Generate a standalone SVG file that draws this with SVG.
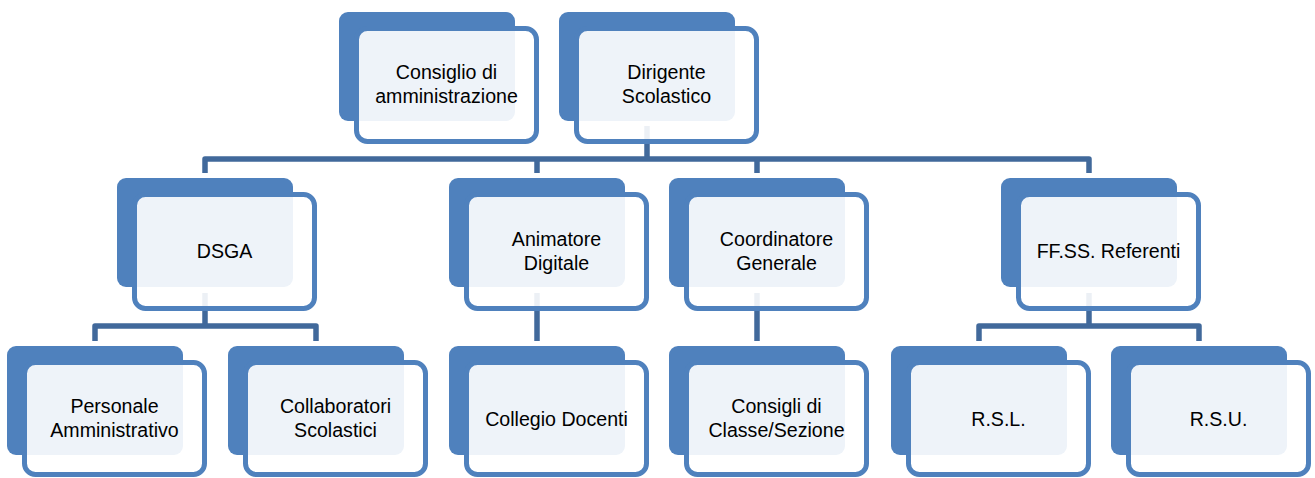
<svg xmlns="http://www.w3.org/2000/svg" width="1315" height="478" viewBox="0 0 1315 478">
<style>
.back{fill:#4F81BD}
.front{fill:#FFFFFF;fill-opacity:0.9;stroke:#4F81BD;stroke-width:5}
.lbl{font-family:"Liberation Sans",Arial,sans-serif;font-size:19.6px;fill:#000;text-anchor:middle}
.conn{fill:none;stroke:#41699B;stroke-width:5.5;stroke-linejoin:round}
</style>
<rect width="1315" height="478" fill="#FFFFFF"/>
<g id="connectors">
<path class="conn" d="M647,126 V159"/>
<path class="conn" d="M205,173 V159 H1089 V173"/>
<path class="conn" d="M537,159 V173"/>
<path class="conn" d="M757,159 V173"/>
<path class="conn" d="M205,293 V326"/>
<path class="conn" d="M95,341 V326 H316 V341"/>
<path class="conn" d="M537,293 V341"/>
<path class="conn" d="M757,293 V341"/>
<path class="conn" d="M1089,293 V326"/>
<path class="conn" d="M979,341 V326 H1199 V341"/>
</g>
<g id="n-consiglio">
<rect class="back" x="339" y="12" width="176" height="109" rx="9"/>
<rect class="front" x="356.5" y="28.5" width="180" height="113" rx="11"/>
<text class="lbl" x="446.5" y="79">Consiglio di</text>
<text class="lbl" x="446.5" y="103">amministrazione</text>
</g>
<g id="n-dirigente">
<rect class="back" x="559" y="12" width="176" height="109" rx="9"/>
<rect class="front" x="576.5" y="28.5" width="180" height="113" rx="11"/>
<text class="lbl" x="666.5" y="79">Dirigente</text>
<text class="lbl" x="666.5" y="103">Scolastico</text>
</g>
<g id="n-dsga">
<rect class="back" x="117" y="178" width="176" height="109" rx="9"/>
<rect class="front" x="134.5" y="194.5" width="180" height="114" rx="11"/>
<text class="lbl" x="224.5" y="258">DSGA</text>
</g>
<g id="n-animatore">
<rect class="back" x="449" y="178" width="176" height="109" rx="9"/>
<rect class="front" x="466.5" y="194.5" width="180" height="114" rx="11"/>
<text class="lbl" x="556.5" y="246">Animatore</text>
<text class="lbl" x="556.5" y="270">Digitale</text>
</g>
<g id="n-coordinatore">
<rect class="back" x="669" y="178" width="176" height="109" rx="9"/>
<rect class="front" x="686.5" y="194.5" width="180" height="114" rx="11"/>
<text class="lbl" x="776.5" y="246">Coordinatore</text>
<text class="lbl" x="776.5" y="270">Generale</text>
</g>
<g id="n-ffss">
<rect class="back" x="1001" y="178" width="176" height="109" rx="9"/>
<rect class="front" x="1018.5" y="194.5" width="180" height="114" rx="11"/>
<text class="lbl" x="1108.5" y="258">FF.SS. Referenti</text>
</g>
<g id="n-personale">
<rect class="back" x="7" y="346" width="176" height="109" rx="9"/>
<rect class="front" x="24.5" y="362.5" width="180" height="112" rx="11"/>
<text class="lbl" x="114.5" y="413">Personale</text>
<text class="lbl" x="114.5" y="437">Amministrativo</text>
</g>
<g id="n-collaboratori">
<rect class="back" x="228" y="346" width="176" height="109" rx="9"/>
<rect class="front" x="245.5" y="362.5" width="180" height="112" rx="11"/>
<text class="lbl" x="335.5" y="413">Collaboratori</text>
<text class="lbl" x="335.5" y="437">Scolastici</text>
</g>
<g id="n-collegio">
<rect class="back" x="449" y="346" width="176" height="109" rx="9"/>
<rect class="front" x="466.5" y="362.5" width="180" height="112" rx="11"/>
<text class="lbl" x="556.5" y="426">Collegio Docenti</text>
</g>
<g id="n-consigli">
<rect class="back" x="669" y="346" width="176" height="109" rx="9"/>
<rect class="front" x="686.5" y="362.5" width="180" height="112" rx="11"/>
<text class="lbl" x="776.5" y="413">Consigli di</text>
<text class="lbl" x="776.5" y="437">Classe/Sezione</text>
</g>
<g id="n-rsl">
<rect class="back" x="891" y="346" width="176" height="109" rx="9"/>
<rect class="front" x="908.5" y="362.5" width="180" height="112" rx="11"/>
<text class="lbl" x="998.5" y="426">R.S.L.</text>
</g>
<g id="n-rsu">
<rect class="back" x="1111" y="346" width="176" height="109" rx="9"/>
<rect class="front" x="1128.5" y="362.5" width="180" height="112" rx="11"/>
<text class="lbl" x="1218.5" y="426">R.S.U.</text>
</g>
</svg>
